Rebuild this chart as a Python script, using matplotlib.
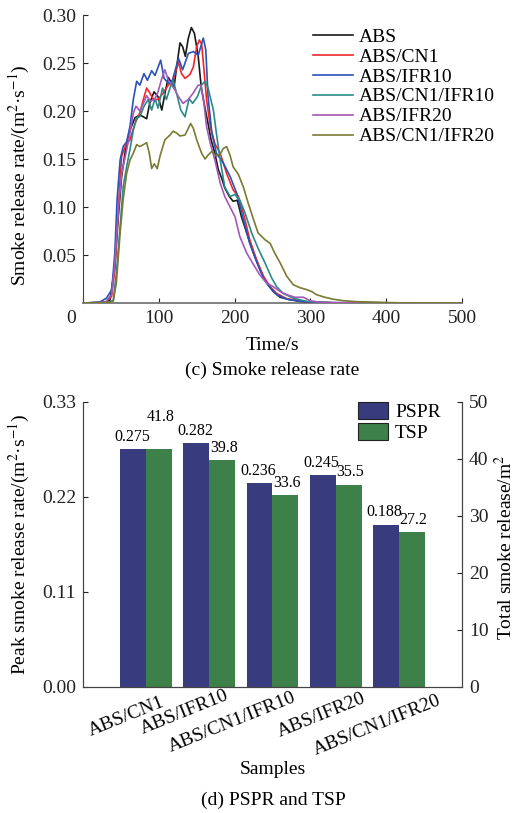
import matplotlib
matplotlib.use("Agg")
import matplotlib.pyplot as plt
import matplotlib.transforms as mtransforms
import numpy as np

plt.rcParams['font.family'] = ['Liberation Serif', 'DejaVu Serif']
plt.rcParams['mathtext.fontset'] = 'stix'
plt.rcParams['font.size'] = 14

# ---- (c) smoke release rate curves ----
series_names = ['ABS', 'ABS/CN1', 'ABS/IFR10', 'ABS/CN1/IFR10', 'ABS/IFR20', 'ABS/CN1/IFR20']
series_colors = ['#1a1a1a', '#f02828', '#2a52b8', '#2a8a88', '#a458b8', '#7a7a32']

t_abs = [0, 20, 30, 35.6, 42, 46.6, 51, 56.7, 62, 68.6, 75, 84, 88, 93.7, 99, 104, 108, 112.6, 117, 120,
         123.6, 128, 131.5, 135, 139, 143, 147, 152, 156, 160.5, 165, 169, 174, 178.5, 183, 187, 193,
         198, 203.6, 209, 216, 225, 233.5, 242, 251, 260, 273, 295, 330, 440]
v_abs = [0, 0.0005, 0.001, 0.003, 0.038, 0.09, 0.132, 0.163, 0.18, 0.193, 0.196, 0.192, 0.208, 0.22,
         0.215, 0.201, 0.218, 0.235, 0.229, 0.224, 0.246, 0.271, 0.267, 0.257, 0.276, 0.287, 0.281,
         0.257, 0.225, 0.205, 0.187, 0.17, 0.156, 0.139, 0.13, 0.12, 0.111, 0.106, 0.107, 0.09, 0.073,
         0.052, 0.035, 0.021, 0.012, 0.006, 0.0035, 0.001, 0.0002, 0]

t_cn1 = [0, 20, 30, 37.8, 42, 46.6, 51, 56.7, 62, 68.6, 75, 79.6, 84, 88, 93, 99, 106, 112.6, 119, 126,
         130, 134.6, 141, 145.6, 150, 153.5, 156.5, 159.6, 163, 168, 174, 181, 189.5, 198, 205, 211.5,
         220, 229, 238, 247, 255.5, 268.7, 286, 308, 440]
v_cn1 = [0, 0.0005, 0.001, 0.007, 0.035, 0.10, 0.153, 0.165, 0.17, 0.187, 0.198, 0.212, 0.224, 0.219,
         0.212, 0.212, 0.219, 0.227, 0.232, 0.251, 0.239, 0.234, 0.238, 0.246, 0.267, 0.274, 0.27, 0.243,
         0.212, 0.184, 0.166, 0.156, 0.135, 0.118, 0.111, 0.094, 0.066, 0.045, 0.028, 0.017, 0.01,
         0.0045, 0.002, 0.0003, 0]

t_ifr10 = [0, 15, 22, 31, 38, 42, 45, 49, 53, 57.6, 62, 66.4, 70.8, 75, 80.5, 85, 90.6, 95, 102.5, 107,
           112.6, 118, 126, 131.5, 139, 145.6, 152, 158.7, 162, 165, 170, 176, 185, 194, 203, 211.5, 220,
           229, 238, 247, 255.5, 268.7, 286, 320, 440]
v_ifr10 = [0, 0.0005, 0.001, 0.005, 0.014, 0.052, 0.108, 0.149, 0.163, 0.168, 0.184, 0.212, 0.231,
           0.227, 0.239, 0.232, 0.242, 0.237, 0.253, 0.234, 0.229, 0.232, 0.255, 0.243, 0.26, 0.262,
           0.258, 0.276, 0.264, 0.215, 0.177, 0.156, 0.146, 0.132, 0.114, 0.087, 0.062, 0.043, 0.026,
           0.016, 0.0087, 0.004, 0.0017, 0.0003, 0]

t_cn1_ifr10 = [0, 25, 35, 40, 44, 49, 53, 57.6, 62, 66.4, 70.8, 75, 80.5, 86, 90.6, 95, 99, 105, 110,
               114.8, 119, 123.6, 129, 134.6, 140, 144.7, 151, 156.5, 161, 165, 172, 176, 181, 187, 194,
               200.5, 207, 213.7, 222.5, 231, 240, 249, 255.5, 264, 277.5, 295, 330, 440]
v_cn1_ifr10 = [0, 0.0005, 0.001, 0.003, 0.031, 0.08, 0.121, 0.142, 0.16, 0.18, 0.193, 0.194, 0.205,
               0.212, 0.201, 0.213, 0.203, 0.224, 0.212, 0.224, 0.232, 0.218, 0.201, 0.194, 0.213,
               0.208, 0.215, 0.227, 0.231, 0.224, 0.201, 0.177, 0.149, 0.121, 0.111, 0.113, 0.107,
               0.094, 0.073, 0.057, 0.042, 0.026, 0.017, 0.01, 0.005, 0.0017, 0.0003, 0]

t_ifr20 = [0, 20, 30, 37.8, 42, 46.6, 51, 56.7, 62, 66.4, 70, 75, 79.6, 84, 89, 95, 99, 104, 108, 112.6,
           119, 126, 132, 139, 145.6, 152, 155.7, 159.6, 163, 168, 174, 181, 187, 194, 200.5, 207, 216,
           225, 233.5, 242, 251, 260, 268.7, 279.7, 290.7, 299.5, 312.7, 340, 440]
v_ifr20 = [0, 0.0005, 0.001, 0.009, 0.042, 0.097, 0.135, 0.156, 0.177, 0.198, 0.205, 0.2, 0.208, 0.216,
           0.21, 0.213, 0.22, 0.234, 0.243, 0.232, 0.225, 0.215, 0.208, 0.212, 0.219, 0.227, 0.227,
           0.208, 0.184, 0.166, 0.149, 0.125, 0.111, 0.1, 0.09, 0.069, 0.052, 0.04, 0.029, 0.021, 0.017,
           0.012, 0.0087, 0.006, 0.006, 0.0024, 0.0007, 0.0002, 0]

t_cn1_ifr20 = [0, 25, 35, 40, 44, 49, 53, 57.6, 62, 66.4, 70.8, 75, 79.6, 84, 87.5, 90.6, 94, 98, 101.6,
               108, 114.8, 119, 123.6, 128, 134.6, 139, 142, 145.6, 150, 156.5, 161, 165, 170, 175.5,
               181, 185, 189.5, 194, 198, 205, 211.5, 218, 225, 231, 240, 247, 253, 260, 268.7, 277.5,
               286, 295, 301.7, 308, 319, 330, 343, 361, 383, 409, 436, 500]
v_cn1_ifr20 = [0, 0.0003, 0.0008, 0.002, 0.021, 0.073, 0.108, 0.135, 0.149, 0.156, 0.165, 0.163, 0.165,
               0.167, 0.156, 0.14, 0.145, 0.14, 0.153, 0.17, 0.175, 0.179, 0.177, 0.174, 0.175, 0.182,
               0.187, 0.182, 0.17, 0.156, 0.15, 0.154, 0.158, 0.153, 0.155, 0.161, 0.163, 0.154, 0.142,
               0.134, 0.121, 0.104, 0.087, 0.073, 0.066, 0.062, 0.052, 0.042, 0.028, 0.019, 0.016,
               0.014, 0.012, 0.0087, 0.006, 0.004, 0.0024, 0.0014, 0.001, 0.0003, 0, 0]

curves = [(t_abs, v_abs), (t_cn1, v_cn1), (t_ifr10, v_ifr10), (t_cn1_ifr10, v_cn1_ifr10),
          (t_ifr20, v_ifr20), (t_cn1_ifr20, v_cn1_ifr20)]

# ---- (d) PSPR and TSP bars ----
samples = ['ABS/CN1', 'ABS/IFR10', 'ABS/CN1/IFR10', 'ABS/IFR20', 'ABS/CN1/IFR20']
pspr = [0.275, 0.282, 0.236, 0.245, 0.188]
tsp = [41.8, 39.8, 33.6, 35.5, 27.2]

fig = plt.figure(figsize=(5.2, 8.13), dpi=100)

# top panel
ax1 = fig.add_axes([0.1596, 0.6273, 0.7288, 0.3542])
for (t, v), name, c in zip(curves, series_names, series_colors):
    ax1.plot(t, v, color=c, lw=1.2, label=name, zorder=3)
ax1.set_xlim(0, 500)
ax1.set_ylim(0, 0.30)
ax1.set_xticks([0, 100, 200, 300, 400, 500])
ax1.set_yticks([0.05, 0.10, 0.15, 0.20, 0.25, 0.30])
ax1.set_yticklabels(['%.2f' % y for y in [0.05, 0.10, 0.15, 0.20, 0.25, 0.30]])
ax1.spines['top'].set_visible(False)
ax1.spines['right'].set_visible(False)
ax1.spines['bottom'].set_color('#777777')
ax1.spines['bottom'].set_linewidth(1.3)
ax1.spines['left'].set_color('#444444')
ax1.tick_params(direction='in', length=3.5, width=0.8, labelsize=14, pad=5, colors='#222222')
# the "0" on the time axis sits a little left of the origin
zero_lab = ax1.get_xticklabels()[0]
zero_lab.set_transform(zero_lab.get_transform() +
                       mtransforms.ScaledTranslation(-12 / 100, 0, fig.dpi_scale_trans))
ax1.set_xlabel('Time/s', fontsize=14)
ax1.xaxis.set_label_coords(0.5, -0.118)
ax1.set_ylabel('Smoke release rate/(m$^{2}$·s$^{-1}$)', fontsize=14)
ax1.yaxis.set_label_coords(-0.135, 0.444)
ax1.legend(loc='upper left', bbox_to_anchor=(313 / 520, 1 - 28 / 813), bbox_transform=fig.transFigure,
           frameon=False, fontsize=14, handlelength=2.06, handletextpad=0.3, labelspacing=0.12,
           borderpad=0, borderaxespad=0)
fig.text(272.5 / 520, 1 - 370 / 813, '(c) Smoke release rate', ha='center', va='center', fontsize=14)

# bottom panel
ax2 = fig.add_axes([0.1596, 0.155, 0.7288, 0.3506])
ax3 = ax2.twinx()
x = np.arange(len(samples))
w = 0.41
b1 = ax2.bar(x - w / 2, pspr, width=w, color='#383c7e', label='PSPR', zorder=2)
b2 = ax3.bar(x + w / 2, tsp, width=w, color='#3e8049', label='TSP', zorder=2)
ax2.set_xlim(-1, 5)
ax2.set_ylim(0, 0.33)
ax3.set_ylim(0, 50)
ax2.set_yticks([0, 0.11, 0.22, 0.33])
ax2.set_yticklabels(['0.00', '0.11', '0.22', '0.33'])
ax3.set_yticks([0, 10, 20, 30, 40, 50])
ax2.set_xticks([])
for a in (ax2, ax3):
    a.spines['top'].set_visible(False)
    a.spines['left'].set_color('#444444')
    a.spines['right'].set_color('#444444')
    a.spines['bottom'].set_color('#444444')
    a.tick_params(direction='in', length=3.5, width=0.8, labelsize=14, pad=5, colors='#222222')

for i in range(len(samples)):
    ax2.annotate('%.3f' % pspr[i], (x[i] - w / 2, pspr[i]), xytext=(-1, 3), textcoords='offset points',
                 ha='center', va='bottom', fontsize=11.5)
    # raise the TSP label when it would run into the PSPR label beside it
    dy = 17 if pspr[i] / 0.33 - 0.01 < tsp[i] / 50 < pspr[i] / 0.33 + 0.05 else 3
    ax3.annotate('%.1f' % tsp[i], (x[i] + w / 2, tsp[i]), xytext=(1, dy), textcoords='offset points',
                 ha='center', va='bottom', fontsize=11.5)

# rotated sample names, placed by hand like the original
name_dx = [14, 15, 20, 26, 38]
name_dy = [-7, 0, -2, -3, -5]
for i, s in enumerate(samples):
    off = mtransforms.ScaledTranslation(name_dx[i] / 100, name_dy[i] / 100, fig.dpi_scale_trans)
    ax2.text(x[i], 0, s, transform=ax2.get_xaxis_transform() + off, rotation=22,
             rotation_mode='anchor', ha='right', va='top', fontsize=14)

ax2.set_xlabel('Samples', fontsize=14)
ax2.xaxis.set_label_coords(0.5, -0.26)
ax2.set_ylabel('Peak smoke release rate/(m$^{2}$·s$^{-1}$)', fontsize=14)
ax2.yaxis.set_label_coords(-0.135, 0.5)
ax3.set_ylabel('Total smoke release/m$^{2}$', fontsize=14)
ax3.yaxis.set_label_coords(1.085, 0.49)

leg = ax2.legend([b1, b2], ['PSPR', 'TSP'], loc='upper left', bbox_to_anchor=(358 / 520, 1 - 402 / 813),
                 bbox_transform=fig.transFigure, frameon=False, fontsize=14, handlelength=1.55,
                 handleheight=1.0, handletextpad=0.36, labelspacing=0.08, borderpad=0, borderaxespad=0)
for p in leg.get_patches():
    p.set_edgecolor('#222222')
    p.set_linewidth(0.8)
ax2.set_zorder(ax3.get_zorder() + 1)
ax2.patch.set_visible(False)

fig.text(273 / 520, 1 - 800 / 813, '(d) PSPR and TSP', ha='center', va='center', fontsize=14)

fig.savefig('out.png', dpi=100)
